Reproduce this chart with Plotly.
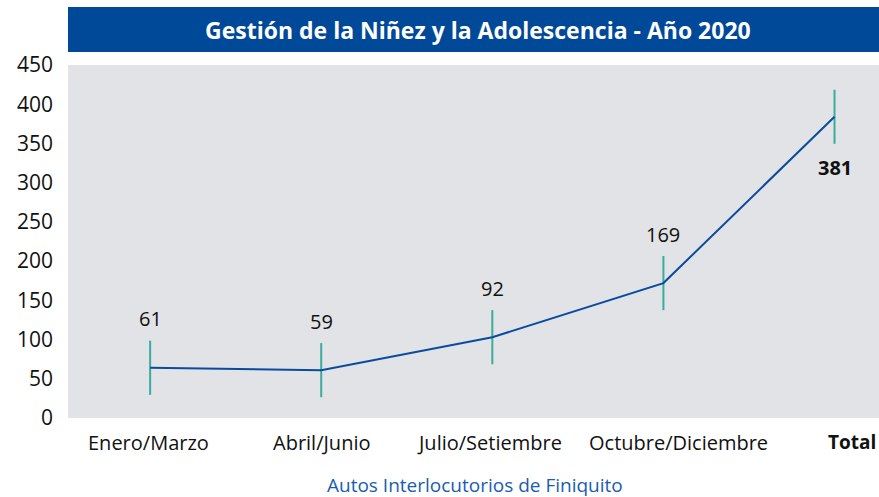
import plotly.graph_objects as go

categories = ["Enero/Marzo", "Abril/Junio", "Julio/Setiembre", "Octubre/Diciembre", "Total"]
line_values = [64, 61, 103, 172, 384]
label_values = [61, 59, 92, 169, 381]
error_half = 34.5
y_ticks = [0, 50, 100, 150, 200, 250, 300, 350, 400, 450]

FONT = "Open Sans"
BLUE = "#004898"
LINE = "#0a4ba0"
TEAL = "#3aab9e"

fig = go.Figure()
fig.add_trace(go.Scatter(
    x=list(range(len(categories))), y=line_values, mode="lines",
    line=dict(color=LINE, width=2),
    error_y=dict(type="constant", value=error_half, width=0, thickness=2, color=TEAL),
    hoverinfo="skip", showlegend=False,
))

annotations = []
for i, (v, lab) in enumerate(zip(line_values, label_values)):
    last = i == len(categories) - 1
    annotations.append(dict(
        x=i, y=v, xref="x", yref="y",
        text=f"<b>{lab}</b>" if last else str(lab),
        showarrow=False, yshift=-51 if last else 49,
        font=dict(family=FONT, size=20, color="#111111"),
    ))
x_shifts = [-2, 0, -3, 15, 17]
for i, c in enumerate(categories):
    last = i == len(categories) - 1
    annotations.append(dict(
        x=i, y=0, xref="x", yref="paper", yanchor="middle",
        text=f"<b>{c}</b>" if last else c,
        showarrow=False, yshift=-24, xshift=x_shifts[i],
        font=dict(family=FONT, size=20 if not last else 19, color="#111111"),
    ))
annotations.append(dict(
    x=0.5, y=1, xref="paper", yref="paper", yanchor="middle",
    text="<b>Gestión de la Niñez y la Adolescencia - Año 2020</b>",
    showarrow=False, yshift=35, xshift=4,
    font=dict(family=FONT, size=23, color="white"),
))
annotations.append(dict(
    x=0.5, y=0, xref="paper", yref="paper", yanchor="middle",
    text="Autos Interlocutorios de Finiquito",
    showarrow=False, yshift=-67, xshift=1,
    font=dict(family=FONT, size=19, color="#1a5cb0"),
))

fig.update_layout(
    width=879, height=497,
    margin=dict(l=68, r=0, t=65, b=79),
    paper_bgcolor="white", plot_bgcolor="#e2e3e7",
    annotations=annotations,
    shapes=[dict(
        type="rect", xref="paper", yref="paper", x0=0, x1=1,
        ysizemode="pixel", yanchor=1, y0=13, y1=58,
        fillcolor=BLUE, line=dict(width=0), layer="above",
    )],
    xaxis=dict(range=[-0.48, 4.26], showticklabels=False, showgrid=False,
               zeroline=False, fixedrange=True),
    yaxis=dict(range=[0, 450], tickvals=y_ticks, showgrid=False, zeroline=False,
               ticklabelstandoff=14, fixedrange=True,
               tickfont=dict(family=FONT, size=21, color="#111111")),
)

fig.write_html("out.html", config={"displayModeBar": False},
               post_script="document.body.style.margin='0';")
